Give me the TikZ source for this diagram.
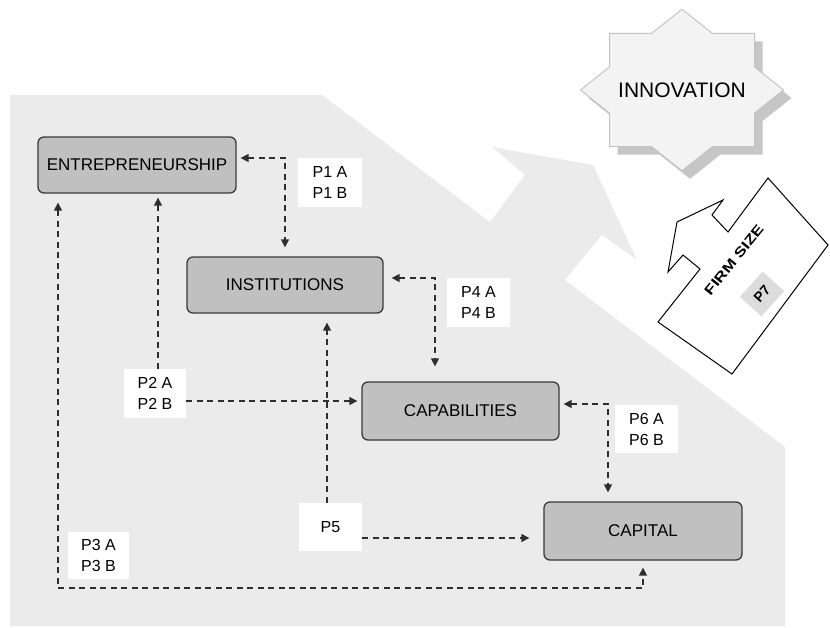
\documentclass[tikz,border=0pt]{standalone}
\usepackage{fontspec}
\setmainfont{Liberation Sans}
\usetikzlibrary{arrows.meta}
\definecolor{bggray}{HTML}{EBEBEB}
\definecolor{boxgray}{HTML}{C0C0C0}
\definecolor{boxline}{HTML}{3A3A3A}
\definecolor{starfill}{HTML}{F3F3F3}
\definecolor{starline}{HTML}{C4C4C4}
\definecolor{shadowgray}{HTML}{C6C6C6}
\definecolor{linkcol}{HTML}{2E2E2E}
\definecolor{ptgray}{HTML}{DCDCDC}
\begin{document}
\begin{tikzpicture}[x=1pt,y=-1pt,
  concept/.style={draw=boxline, line width=1.3pt, fill=boxgray, rounded corners=6pt,
    inner sep=0pt, font=\fontsize{17}{20}\selectfont},
  plabel/.style={fill=white, inner sep=0pt, align=left, font=\fontsize{16}{21}\selectfont},
  link/.style={draw=linkcol, line width=1.4pt, dash pattern=on 6pt off 4.5pt,
    -{Triangle[length=8pt,width=8pt]}},
  linkboth/.style={draw=linkcol, line width=1.4pt, dash pattern=on 6pt off 4.5pt,
    {Triangle[length=8pt,width=8pt]}-{Triangle[length=8pt,width=8pt]}}
]
\useasboundingbox (0,0) rectangle (830,627);
% background region with arrow
\fill[bggray] (10,95) -- (322,95) -- (490,222) -- (525,175) -- (492,147) -- (593,165)
  -- (637,260) -- (602,235) -- (565,280) -- (785,447) -- (785,626) -- (10,626) -- cycle;
% innovation star
\begin{scope}[shift={(682,90)}]
  \fill[shadowgray, shift={(8,8)}] (0,-80.8) -- (30.3,-56.7) -- (72.5,-56.7) -- (72.5,-23.1)
    -- (101.5,0) -- (72.5,23.1) -- (72.5,56.7) -- (30.3,56.7) -- (0,80.8) -- (-30.3,56.7)
    -- (-72.5,56.7) -- (-72.5,23.1) -- (-101.5,0) -- (-72.5,-23.1) -- (-72.5,-56.7)
    -- (-30.3,-56.7) -- cycle;
  \draw[starline, fill=starfill, line width=1pt] (0,-80.8) -- (30.3,-56.7) -- (72.5,-56.7) -- (72.5,-23.1)
    -- (101.5,0) -- (72.5,23.1) -- (72.5,56.7) -- (30.3,56.7) -- (0,80.8) -- (-30.3,56.7)
    -- (-72.5,56.7) -- (-72.5,23.1) -- (-101.5,0) -- (-72.5,-23.1) -- (-72.5,-56.7)
    -- (-30.3,-56.7) -- cycle;
\end{scope}
\node[font=\fontsize{21}{24}\selectfont] (innov) at (682,90) {INNOVATION};
% firm size arrow
\draw[black, line width=1pt, fill=white] (768,178) -- (828,245) -- (732,374) -- (658,322)
  -- (700,269) -- (683,255) -- (668,272) -- (677,222) -- (723,200) -- (712,215) -- (728,232) -- cycle;
\node[rotate=51, inner sep=0pt, font=\bfseries\fontsize{13.5}{15}\selectfont] (firm) at (734,260)
  {\scalebox{1.28}[1]{FIRM SIZE}};
\node[rotate=48, fill=ptgray, minimum width=34pt, minimum height=29pt, inner sep=0pt,
  font=\bfseries\fontsize{14}{16}\selectfont] (p7) at (762,294) {P7};
% concept boxes
\node[concept, minimum width=198pt, minimum height=56pt] (entr) at (137,165) {ENTREPRENEURSHIP};
\node[concept, minimum width=196pt, minimum height=56pt] (inst) at (285,285) {INSTITUTIONS};
\node[concept, minimum width=197pt, minimum height=58pt] (capab) at (460.5,411) {CAPABILITIES};
\node[concept, minimum width=198pt, minimum height=58pt] (capital) at (643,531) {CAPITAL};
% labels
\node[plabel, minimum width=64pt, minimum height=49pt] (p1) at (330,182.5) {P1 A\\P1 B};
\node[plabel, minimum width=63pt, minimum height=49pt] (p4) at (478.5,302.5) {P4 A\\P4 B};
\node[plabel, minimum width=62pt, minimum height=49pt] (p2) at (155,393.5) {P2 A\\P2 B};
\node[plabel, minimum width=61pt, minimum height=47pt] (p3) at (98.5,555.5) {P3 A\\P3 B};
\node[plabel, minimum width=63pt, minimum height=48pt] (p5) at (330.5,527) {P5};
\node[plabel, minimum width=63pt, minimum height=48pt] (p6) at (646.5,429) {P6 A\\P6 B};
% connector corners
\coordinate (c1) at (285,158);
\coordinate (c4) at (435,278);
\coordinate (c6) at (608,404);
\coordinate (c3a) at (58,588);
\coordinate (c3b) at (643,588);
\coordinate (c2) at (158,401);
\coordinate (c5) at (327,538);
% connectors
\draw[linkboth, shorten <=4pt, shorten >=9pt] (c1 -| entr.east) -- (c1) -- (c1 |- inst.north);
\draw[linkboth, shorten <=8pt, shorten >=15pt] (c4 -| inst.east) -- (c4) -- (c4 |- capab.north);
\draw[linkboth, shorten <=4pt, shorten >=9pt] (c6 -| capab.east) -- (c6) -- (c6 |- capital.north);
\draw[linkboth, shorten <=9pt, shorten >=7pt] (c3a |- entr.south) -- (c3a) -- (c3b) -- (c3b |- capital.south);
\draw[link, shorten >=4pt] (c2 |- p2.north) -- (c2 |- entr.south);
\draw[link, shorten >=4pt] (c2 -| p2.east) -- (c2 -| capab.west);
\draw[link, shorten >=9pt] (c5 |- p5.north) -- (c5 |- inst.south);
\draw[link, shorten >=14pt] (c5 -| p5.east) -- (c5 -| capital.west);
\end{tikzpicture}
\end{document}
